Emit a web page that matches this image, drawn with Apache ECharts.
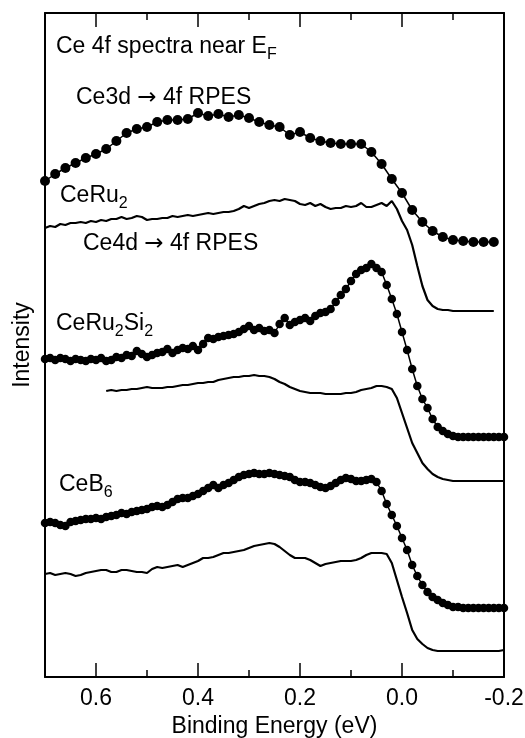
<!DOCTYPE html>
<html>
<head>
<meta charset="utf-8">
<title>Ce 4f spectra near EF</title>
<script src="https://cdn.jsdelivr.net/npm/echarts@6/dist/echarts.min.js"></script>
<style>
  html, body { margin: 0; padding: 0; background: #ffffff; }
  #chart { width: 525px; height: 738px; }
</style>
</head>
<body>
<div id="chart"></div>
<script>
// Binding energy grids (eV)
const energyFine = [
  0.70, 0.69, 0.68, 0.67, 0.66, 0.65, 0.64, 0.63, 0.62, 0.61,
  0.60, 0.59, 0.58, 0.57, 0.56, 0.55, 0.54, 0.53, 0.52, 0.51,
  0.50, 0.49, 0.48, 0.47, 0.46, 0.45, 0.44, 0.43, 0.42, 0.41,
  0.40, 0.39, 0.38, 0.37, 0.36, 0.35, 0.34, 0.33, 0.32, 0.31,
  0.30, 0.29, 0.28, 0.27, 0.26, 0.25, 0.24, 0.23, 0.22, 0.21,
  0.20, 0.19, 0.18, 0.17, 0.16, 0.15, 0.14, 0.13, 0.12, 0.11,
  0.10, 0.09, 0.08, 0.07, 0.06, 0.05, 0.04, 0.03, 0.02, 0.01,
  0.00, -0.01, -0.02, -0.03, -0.04, -0.05, -0.06, -0.07, -0.08, -0.09,
  -0.10, -0.11, -0.12, -0.13, -0.14, -0.15, -0.16, -0.17, -0.18, -0.19,
  -0.20
];
const energyCoarse = [
  0.70, 0.68, 0.66, 0.64, 0.62, 0.60, 0.58, 0.56, 0.54, 0.52,
  0.50, 0.48, 0.46, 0.44, 0.42, 0.40, 0.38, 0.36, 0.34, 0.32,
  0.30, 0.28, 0.26, 0.24, 0.22, 0.20, 0.18, 0.16, 0.14, 0.12,
  0.10, 0.08, 0.06, 0.04, 0.02, 0.00, -0.02, -0.04, -0.06, -0.08,
  -0.10, -0.12, -0.14, -0.16, -0.18
];
const energyCeRu2_4d = energyFine.slice(0, 89);     // 0.70 .. -0.18
const energyCeRu2Si2_4d = energyFine.slice(12);     // 0.58 .. -0.20

// Intensities (arb. units, curves stacked with vertical offsets)
const ceRu2_3d = [
  496, 503, 509, 514, 519, 523, 528, 536, 544, 548,
  550, 555, 557, 557, 558, 564, 561, 563, 560, 562,
  559, 555, 552, 550, 542, 545, 539, 536, 534, 533,
  533, 533, 525, 513, 498, 484, 467, 455, 446, 440,
  437, 436, 435, 435, 435
];
const ceRu2_4d = [
  449, 451, 450, 453, 452, 454, 454, 455, 454, 456,
  455, 457, 456, 458, 458, 460, 458, 459, 461, 460,
  457, 458, 458, 459, 459, 461, 460, 461, 462, 461,
  462, 463, 464, 463, 464, 465, 465, 466, 468, 471,
  469, 471, 473, 474, 476, 477, 476, 478, 477, 476,
  473, 472, 474, 471, 473, 470, 468, 469, 469, 471,
  470, 471, 474, 470, 470, 472, 474, 471, 476, 468,
  456, 447, 432, 411, 391, 377, 371, 368, 367, 367,
  366, 366, 366, 366, 366, 366, 366, 366, 366
];
const ceRu2Si2_4d_res = [
  318, 319, 317, 319, 318, 316, 318, 317, 316, 318,
  317, 319, 316, 317, 320, 319, 322, 321, 326, 323,
  320, 322, 324, 325, 328, 324, 327, 329, 328, 331,
  327, 333, 339, 338, 340, 341, 342, 343, 345, 348,
  351, 347, 349, 346, 347, 344, 353, 359, 352, 355,
  357, 359, 356, 361, 364, 365, 368, 375, 382, 388,
  396, 403, 407, 409, 413, 409, 405, 392, 378, 363,
  345, 327, 308, 291, 278, 269, 258, 250, 246, 243,
  241, 240, 240, 240, 240, 240, 240, 240, 240, 240,
  240
];
const ceRu2Si2_4d_off = [
  286, 287, 286, 287, 287, 288, 288, 289, 290, 289,
  289, 289, 290, 290, 291, 292, 292, 293, 294, 294,
  295, 295, 297, 298, 299, 300, 300, 301, 301, 302,
  301, 301, 300, 298, 295, 293, 290, 288, 286, 285,
  284, 284, 284, 283, 283, 283, 283, 284, 284, 285,
  287, 288, 289, 291, 291, 290, 288, 279, 264, 249,
  234, 224, 214, 208, 203, 200, 198, 197, 196, 196,
  196, 196, 196, 196, 196, 196, 196, 196, 196
];
const ceB6_res = [
  154, 155, 154, 152, 151, 155, 156, 157, 158, 158,
  159, 158, 160, 161, 162, 164, 163, 165, 166, 167,
  168, 170, 171, 170, 172, 175, 178, 179, 179, 181,
  183, 186, 189, 192, 189, 192, 194, 197, 200, 202,
  203, 204, 203, 203, 204, 203, 202, 201, 200, 197,
  195, 195, 194, 192, 190, 189, 191, 194, 197, 199,
  198, 196, 196, 197, 198, 195, 186, 173, 162, 151,
  139, 127, 112, 101, 92, 85, 80, 77, 74, 72,
  70, 70, 69, 69, 69, 69, 69, 69, 69, 69,
  69
];
const ceB6_off = [
  103, 104, 102, 103, 104, 103, 101, 102, 104, 105,
  106, 107, 107, 105, 105, 107, 107, 106, 105, 105,
  104, 108, 110, 109, 110, 111, 112, 110, 112, 114,
  116, 119, 119, 120, 122, 124, 124, 125, 126, 127,
  129, 131, 132, 133, 134, 133, 130, 126, 122, 119,
  119, 119, 117, 114, 111, 113, 114, 115, 116, 116,
  116, 117, 119, 122, 124, 124, 124, 123, 114, 97,
  80, 64, 47, 38, 33, 29, 27, 26, 26, 26,
  26, 26, 26, 26, 26, 26, 26, 26, 26, 26,
  27
];

// Energy-axis tick positions (eV)
const majorTicks = [0.6, 0.4, 0.2, 0.0, -0.2];
const minorTicks = [0.5, 0.3, 0.1, -0.1];

const FONT = '"Liberation Sans", Arial, Helvetica, sans-serif';
const ARROW_FONT = '"DejaVu Sans", sans-serif';
const INK = '#000000';
const FS = 23;
const MAJOR_LEN = 14;
const MINOR_LEN = 7;
const Y_MIN = 0;
const Y_MAX = 664;

function pairs(xs, ys) {
  return ys.map((y, i) => [xs[i], y]);
}

// Energy axis: -0.2 .. 0.7, drawn right-to-left, framed top and bottom.
function xAxisDef(position, withLabels) {
  const ax = {
    type: 'value',
    min: -0.2,
    max: 0.7,
    interval: 0.2,
    inverse: true,
    position: position,
    axisLine: { show: true, onZero: false, lineStyle: { color: INK, width: 2 } },
    axisTick: { show: false },
    axisLabel: {
      show: withLabels, margin: 10, color: INK, fontSize: FS, fontFamily: FONT,
      formatter: v => (Math.abs(v - 0.7) < 1e-6 ? '' : v.toFixed(1))
    },
    splitLine: { show: false }
  };
  if (withLabels) {
    ax.name = 'Binding Energy (eV)';
    ax.nameLocation = 'middle';
    ax.nameGap = 36;
    ax.nameTextStyle = { color: INK, fontSize: FS, fontFamily: FONT };
  }
  return ax;
}

function dotSeries(name, xs, ys, size) {
  return {
    name: name, type: 'line', data: pairs(xs, ys),
    symbol: 'circle', symbolSize: size, showAllSymbol: true,
    itemStyle: { color: INK }, lineStyle: { color: INK, width: 1.5 },
    silent: true, z: 3
  };
}

function plainSeries(name, xs, ys) {
  return {
    name: name, type: 'line', data: pairs(xs, ys),
    symbol: 'none', lineStyle: { color: INK, width: 2.2 },
    silent: true, z: 2
  };
}

const richStyles = {
  n: { fontSize: FS, lineHeight: 32, fontFamily: FONT, fill: INK },
  a: { fontSize: FS, lineHeight: 32, fontFamily: ARROW_FONT, fill: INK },
  s: { fontSize: 16, verticalAlign: 'bottom', fontFamily: FONT, fill: INK }
};

function label(x, y, text) {
  return {
    type: 'text', x: x, y: y, silent: true,
    style: { text: text, rich: richStyles, fill: INK, fontSize: FS, fontFamily: FONT, verticalAlign: 'middle', align: 'left' }
  };
}

const labels = [
  label(56, 47, '{n|Ce 4f spectra near E}{s|F}'),
  label(76, 98, '{n|Ce3d }{a|\u2192}{n| 4f RPES}'),
  label(60, 196, '{n|CeRu}{s|2}'),
  label(83, 244, '{n|Ce4d }{a|\u2192}{n| 4f RPES}'),
  label(56, 324, '{n|CeRu}{s|2}{n|Si}{s|2}'),
  label(59, 485, '{n|CeB}{s|6}')
];

const chart = echarts.init(document.getElementById('chart'));
chart.setOption({
  animation: false,
  backgroundColor: '#ffffff',
  grid: { left: 45, right: 21, top: 13, bottom: 61, outerBoundsMode: 'none' },
  xAxis: [
    xAxisDef('bottom', true),
    xAxisDef('top', false)
  ],
  yAxis: [
    {
      type: 'value', min: Y_MIN, max: Y_MAX, position: 'left',
      axisLine: { show: true, onZero: false, lineStyle: { color: INK, width: 2 } },
      axisTick: { show: false }, axisLabel: { show: false }, splitLine: { show: false },
      name: 'Intensity', nameLocation: 'middle', nameGap: 11, nameRotate: 90,
      nameTextStyle: { color: INK, fontSize: FS, fontFamily: FONT }
    },
    {
      type: 'value', min: Y_MIN, max: Y_MAX, position: 'right',
      axisLine: { show: true, onZero: false, lineStyle: { color: INK, width: 2 } },
      axisTick: { show: false }, axisLabel: { show: false }, splitLine: { show: false }
    }
  ],
  series: [
    dotSeries('CeRu2 Ce3d-4f', energyCoarse, ceRu2_3d, 10),
    plainSeries('CeRu2 Ce4d-4f', energyCeRu2_4d, ceRu2_4d),
    dotSeries('CeRu2Si2 on-resonance', energyFine, ceRu2Si2_4d_res, 8.5),
    plainSeries('CeRu2Si2 off-resonance', energyCeRu2Si2_4d, ceRu2Si2_4d_off),
    dotSeries('CeB6 on-resonance', energyFine, ceB6_res, 8.5),
    plainSeries('CeB6 off-resonance', energyFine, ceB6_off)
  ]
});

// Inward tick marks on the bottom and top frame, positioned through the axis scales.
const yBottom = chart.convertToPixel({ yAxisIndex: 0 }, Y_MIN);
const yTop = chart.convertToPixel({ yAxisIndex: 0 }, Y_MAX);
function tickMarks(values, len) {
  const out = [];
  values.forEach(v => {
    const x = chart.convertToPixel({ xAxisIndex: 0 }, v);
    const st = { stroke: INK, lineWidth: 1.5 };
    out.push({ type: 'line', silent: true, z: 10, shape: { x1: x, y1: yBottom, x2: x, y2: yBottom - len }, style: st });
    out.push({ type: 'line', silent: true, z: 10, shape: { x1: x, y1: yTop, x2: x, y2: yTop + len }, style: st });
  });
  return out;
}

chart.setOption({
  graphic: labels.concat(tickMarks(majorTicks, MAJOR_LEN), tickMarks(minorTicks, MINOR_LEN))
});
</script>
</body>
</html>
